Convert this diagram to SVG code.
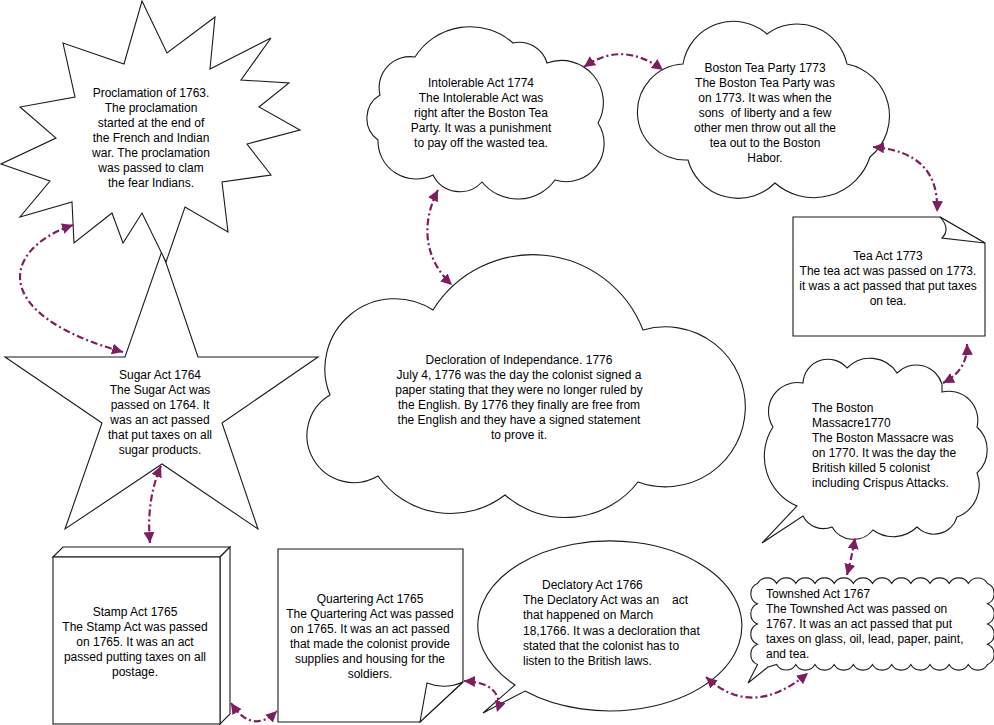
<svg xmlns="http://www.w3.org/2000/svg" width="994" height="725" viewBox="0 0 994 725">
<style>
.s{fill:#fff;stroke:#1a1a1a;stroke-width:1.1;stroke-linejoin:miter}
text{font-family:"Liberation Sans",Arial,sans-serif;font-size:12px;fill:#000}
.m{text-anchor:middle}
.cn{fill:none;stroke:#7f1d60;stroke-width:2.2;stroke-dasharray:7 3 2 3}
</style>
<defs>
<marker id="ah" viewBox="0 0 10 10" refX="10" refY="5" markerWidth="11" markerHeight="11" markerUnits="userSpaceOnUse" orient="auto-start-reverse">
<path d="M0,0 L10,5 L0,10 z" fill="#7f1d60"/>
</marker>
</defs>
<rect width="994" height="725" fill="#fff"/>

<g id="sugar">
<polygon class="s" points="162,251 198,357 318,357 222,423 258,529 162,464 65,529 102,423 5,357 125,357"/>
<text class="m" x="160" y="379">Sugar Act 1764<tspan x="160" dy="15">The Sugar Act was</tspan><tspan x="160" dy="15">passed on 1764. It</tspan><tspan x="160" dy="15">was an act passed</tspan><tspan x="160" dy="15">that put taxes on all</tspan><tspan x="160" dy="15">sugar products.</tspan></text>
</g>

<g id="proclamation">
<polygon class="s" points="142,1 167,53 215,17 210,69 271,38 241,80 289,83 259,107 300,130 247,144 271,175 222,182 228,232 185,207 166,262 142,213 123,243 112,213 74,243 72,202 20,217 50,181 1,164 56,138 20,107 75,97 63,43 124,64"/>
<text class="m" x="151" y="97">Proclamation of 1763.<tspan x="151" dy="15">The proclamation</tspan><tspan x="151" dy="15">started at the end of</tspan><tspan x="151" dy="15">the French and Indian</tspan><tspan x="151" dy="15">war. The proclamation</tspan><tspan x="151" dy="15">was passed to clam</tspan><tspan x="151" dy="15">the fear Indians.</tspan></text>
</g>

<g id="stamp">
<polygon class="s" points="53,557 63,547 230,547 220,557"/>
<polygon class="s" points="220,557 230,547 230,714 220,724"/>
<rect class="s" x="53" y="557" width="167" height="167"/>
<text class="m" x="135" y="616">Stamp Act 1765<tspan x="135" dy="15">The Stamp Act was passed</tspan><tspan x="135" dy="15">on 1765. It was an act</tspan><tspan x="135" dy="15">passed putting taxes on all</tspan><tspan x="135" dy="15">postage.</tspan></text>
</g>

<g id="quartering">
<path class="s" d="M278,549 H463 V682 L420,722 H278 Z"/>
<path class="s" d="M427,683 Q445,690 463,682 L420,722 Z"/>
<text class="m" x="370" y="602.5">Quartering Act 1765<tspan x="370" dy="15">The Quartering Act was passed</tspan><tspan x="370" dy="15">on 1765. It was an act passed</tspan><tspan x="370" dy="15">that made the colonist provide</tspan><tspan x="370" dy="15">supplies and housing for the</tspan><tspan x="370" dy="15">soldiers.</tspan></text>
</g>

<g id="declatory">
<path class="s" d="M525,691 A132,85 0 1 0 515,685 L483,713 Z"/>
<text x="542" y="589">Declatory Act 1766<tspan x="523" dy="15.2">The Declatory Act was an</tspan><tspan x="672">act</tspan><tspan x="523" dy="15.2">that happened on March</tspan><tspan x="523" dy="15.2">18,1766. It was a decloration that</tspan><tspan x="523" dy="15.2">stated that the colonist has to</tspan><tspan x="523" dy="15.2">listen to the British laws.</tspan></text>
</g>

<g id="townshed">
<path class="s" d="M757.5,583.5 a11,11 0 0 1 19.17,0 a11,11 0 0 1 19.17,0 a11,11 0 0 1 19.17,0 a11,11 0 0 1 19.17,0 a11,11 0 0 1 19.17,0 a11,11 0 0 1 19.17,0 a11,11 0 0 1 19.17,0 a11,11 0 0 1 19.17,0 a11,11 0 0 1 19.17,0 a11,11 0 0 1 19.17,0 a11,11 0 0 1 19.17,0 a11,11 0 0 1 19.13,0 a11,11 0 0 1 0,20.25 a11,11 0 0 1 0,20.25 a11,11 0 0 1 0,20.25 a11,11 0 0 1 0,20.25 a11,11 0 0 1 -19.17,0 a11,11 0 0 1 -19.17,0 a11,11 0 0 1 -19.17,0 a11,11 0 0 1 -19.17,0 a11,11 0 0 1 -19.17,0 a11,11 0 0 1 -19.17,0 a11,11 0 0 1 -19.17,0 a11,11 0 0 1 -19.17,0 a11,11 0 0 1 -19.17,0 a11,11 0 0 1 -19.17,0 a11,11 0 0 1 -19.13,0 L768,667 L748,683 L757.5,664.5 a11,11 0 0 1 0,-20.25 a11,11 0 0 1 0,-20.25 a11,11 0 0 1 0,-20.25 a11,11 0 0 1 0,-20.25 Z"/>
<text x="766" y="598">Townshed Act 1767<tspan x="766" dy="15">The Townshed Act was passed on</tspan><tspan x="766" dy="15">1767. It was an act passed that put</tspan><tspan x="766" dy="15">taxes on glass, oil, lead, paper, paint,</tspan><tspan x="766" dy="15">and tea.</tspan></text>
</g>

<g id="massacre">
<path class="s" d="M803,383 A25,25 0 0 1 847,368 A32,32 0 0 1 897,373 A27,27 0 0 1 942,384 L942,392 A29,29 0 0 1 977,427 A31,31 0 0 1 977,473 A34,34 0 0 1 957,517 A24,24 0 0 1 917,527 A34,34 0 0 1 873,530 A25,25 0 0 1 832,527 A23,23 0 0 1 803,516 L762,543 L797,506 A54,54 0 0 1 773,427 A29,29 0 0 1 803,383 Z"/>
<text x="812" y="412">The Boston<tspan x="812" dy="15">Massacre1770</tspan><tspan x="812" dy="15">The Boston Massacre was</tspan><tspan x="812" dy="15">on 1770. It was the day the</tspan><tspan x="812" dy="15">British killed 5 colonist</tspan><tspan x="812" dy="15">including Crispus Attacks.</tspan></text>
</g>

<g id="teaact">
<path class="s" d="M793,217 H940 L985,243 V336 H793 Z"/>
<path class="s" d="M940,217 Q951,229 942,238 L985,243 Z"/>
<text class="m" x="888" y="260">Tea Act 1773<tspan x="888" dy="15">The tea act was passed on 1773.</tspan><tspan x="888" dy="15">it was a act passed that put taxes</tspan><tspan x="888" dy="15">on tea.</tspan></text>
</g>

<g id="teaparty">
<path class="s" d="M683,64 A51,51 0 0 1 767,34 A51,51 0 0 1 847,64 A53,53 0 0 1 870,157 A59,59 0 0 1 775,183 A52,52 0 0 1 688,160 A48,48 0 0 1 683,64 Z"/>
<text class="m" x="765" y="72">Boston Tea Party 1773<tspan x="765" dy="15">The Boston Tea Party was</tspan><tspan x="765" dy="15">on 1773. It was when the</tspan><tspan x="765" dy="15" xml:space="preserve">sons  of liberty and a few</tspan><tspan x="765" dy="15">other men throw out all the</tspan><tspan x="765" dy="15">tea out to the Boston</tspan><tspan x="765" dy="15">Habor.</tspan></text>
</g>

<g id="intolerable">
<path class="s" d="M380,95 A31,31 0 0 1 415,57 A65,65 0 0 1 513,43 A29,29 0 0 1 547,63 A42,42 0 0 1 598,123 A38,38 0 0 1 555,180 A46,46 0 0 1 482,182 A30,30 0 0 1 433,175 A38,38 0 0 1 378,140 A27,27 0 0 1 380,95 Z"/>
<text class="m" x="481" y="87">Intolerable Act 1774<tspan x="481" dy="15">The Intolerable Act was</tspan><tspan x="481" dy="15">right after the Boston Tea</tspan><tspan x="481" dy="15">Party. It was a punishment</tspan><tspan x="481" dy="15">to pay off the wasted tea.</tspan></text>
</g>

<g id="independence">
<path class="s" d="M433,310 A118,118 0 0 1 643,330 A80,80 0 1 1 638,482 A92,92 0 0 1 505,495 A89,89 0 0 1 378,476 A47,47 0 0 1 330,395 A70,70 0 0 1 433,310 Z"/>
<text class="m" x="519" y="364">Decloration of Independance. 1776<tspan x="519" dy="15">July 4, 1776 was the day the colonist signed a</tspan><tspan x="519" dy="15">paper stating that they were no longer ruled by</tspan><tspan x="519" dy="15">the English. By 1776 they finally are free from</tspan><tspan x="519" dy="15">the English and they have a signed statement</tspan><tspan x="519" dy="15">to prove it.</tspan></text>
</g>

<g id="connectors">
<path class="cn" marker-start="url(#ah)" marker-end="url(#ah)" d="M73,225 C0,250 -10,315 123,352"/>
<path class="cn" marker-start="url(#ah)" marker-end="url(#ah)" d="M161,466 Q146,500 150,543"/>
<path class="cn" marker-start="url(#ah)" marker-end="url(#ah)" d="M231,703 Q252,735 277,711"/>
<path class="cn" marker-start="url(#ah)" marker-end="url(#ah)" d="M464,681 C490,682 503,693 497,712"/>
<path class="cn" marker-start="url(#ah)" marker-end="url(#ah)" d="M706,677 Q752,720 808,673"/>
<path class="cn" marker-start="url(#ah)" marker-end="url(#ah)" d="M847,575 Q852,556 855,538"/>
<path class="cn" marker-start="url(#ah)" marker-end="url(#ah)" d="M943,383 Q968,370 967,344"/>
<path class="cn" marker-start="url(#ah)" marker-end="url(#ah)" d="M873,147 Q940,152 937,212"/>
<path class="cn" marker-start="url(#ah)" marker-end="url(#ah)" d="M584,67 Q622,40 663,70"/>
<path class="cn" marker-start="url(#ah)" marker-end="url(#ah)" d="M438,190 C420,225 425,260 452,285"/>
</g>
</svg>
